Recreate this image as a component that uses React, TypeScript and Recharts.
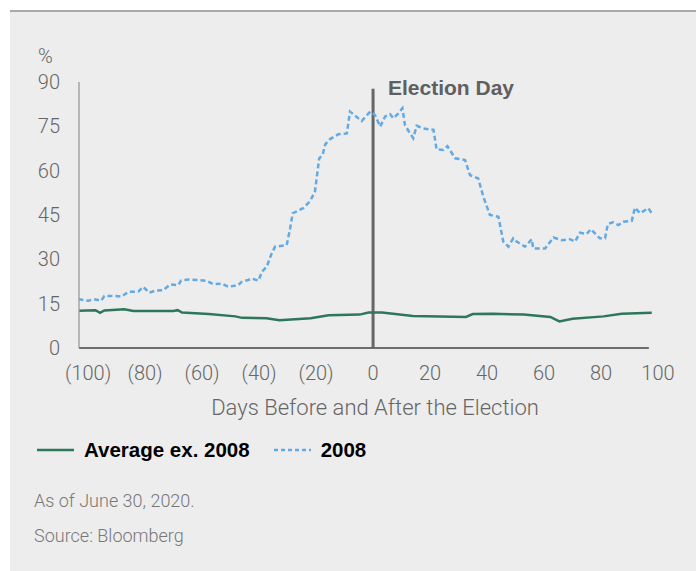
import React from "react";
import { LineChart, Line, XAxis, YAxis, ReferenceLine } from "recharts";

// 2008 path, read as (day, %) pairs
const days2008 = [
  -103.4, -99.9, -98.1, -95.4, -94.3, -90.5, -88.2, -85.9, -82.4, -80.6, -78.6, -76.5, -73.6, -71.2,
  -68.3, -67.4, -64.8, -61.3, -58.4, -56.0, -53.1, -50.8, -47.3, -46.1, -43.8, -42.6, -40.2, -39.0,
  -37.3, -35.8, -34.4, -30.3, -29.1, -28.2, -24.5, -22.1, -20.4, -19.8, -18.9, -17.7, -16.8, -15.1,
  -12.2, -9.2, -8.1, -4.0, -1.0, 0.7, 2.5, 4.2, 6.0, 7.1, 8.9, 10.3, 11.2, 12.4, 14.1, 15.3, 17.6,
  21.2, 22.3, 24.7, 26.1, 28.8, 32.3, 34.0, 36.9, 38.7, 41.0, 44.0, 45.7, 47.5, 49.2, 50.4, 53.3,
  55.7, 56.2, 60.4, 63.3, 66.2, 69.1, 70.9, 72.6, 75.0, 76.4, 79.6, 81.4, 82.4, 84.3, 86.1, 87.8,
  90.8, 91.9, 93.7, 96.6, 97.8,
];
const values2008 = [
  16.5, 16.0, 16.5, 16.0, 17.6, 17.6, 17.4, 19.0, 19.1, 20.7, 18.7, 19.4, 19.6, 21.5,
  21.3, 22.8, 23.2, 23.0, 22.7, 21.6, 21.8, 20.7, 21.3, 22.4, 23.0, 23.5, 22.8, 25.8,
  27.5, 31.5, 34.3, 34.8, 40.5, 45.6, 47.3, 49.7, 52.9, 57.4, 64.2, 65.3, 68.9, 70.7,
  72.3, 72.6, 80.0, 76.8, 80.0, 78.8, 74.9, 78.3, 79.1, 77.7, 79.4, 81.1, 75.4, 73.5, 71.0, 75.2, 74.3,
  73.8, 67.2, 67.0, 68.3, 64.2, 63.6, 58.5, 57.4, 51.2, 45.0, 44.4, 36.0, 34.3, 37.1, 36.0, 34.3,
  36.8, 33.7, 33.7, 37.4, 36.5, 36.8, 36.0, 39.0, 38.6, 40.2, 37.1, 37.1, 42.0, 42.5, 41.6, 42.7,
  43.0, 47.5, 45.6, 47.3, 45.6,
];

// average of the other election years
const daysAvg = [
  -103.4, -97.4, -95.8, -94.3, -87.3, -84.1, -70.1, -68.6, -67.0, -57.7, -48.3, -46.0, -37.4, -32.8,
  -21.9, -15.6, -4.7, -1.6, 3.1, 14.0, 32.6, 35.0, 42.0, 52.9, 62.2, 65.4, 70.0, 80.9, 87.2, 97.8,
];
const valuesAvg = [
  12.6, 12.8, 11.9, 12.7, 13.1, 12.5, 12.5, 12.8, 12.0, 11.5, 10.7, 10.2, 10.1, 9.4,
  10.1, 11.1, 11.3, 12.0, 12.0, 10.8, 10.5, 11.5, 11.6, 11.3, 10.5, 9.0, 9.9, 10.7, 11.6, 11.9,
];

const xTicks = [-100, -80, -60, -40, -20, 0, 20, 40, 60, 80, 100];
const yTicks = [0, 15, 30, 45, 60, 75, 90];

const GREEN = "#2f775a";
const BLUE = "#63aae4";
const LABEL = "#666666";

const series2008 = days2008.map((d, i) => ({ day: d, value: values2008[i] }));
const seriesAvg = daysAvg.map((d, i) => ({ day: d, value: valuesAvg[i] }));

const fmtDay = (v: number) => (v < 0 ? `(${Math.abs(v)})` : `${v}`);

const tickFont = { fontFamily: "Roboto", fontWeight: 300, fontSize: 20, fill: LABEL };

function LegendItem({ color, dashed, label }: { color: string; dashed?: boolean; label: string }) {
  return (
    <span style={{ display: "inline-flex", alignItems: "center" }}>
      <svg width={37} height={6} style={{ marginRight: 10 }}>
        <line x1={0} y1={3} x2={37} y2={3} stroke={color} strokeWidth={2.5} strokeDasharray={dashed ? "4 3" : undefined} />
      </svg>
      <span>{label}</span>
    </span>
  );
}

export default function App() {
  return (
    <div style={{ position: "absolute", left: 0, top: 0, width: 696, height: 571, background: "#fff", overflow: "hidden" }}>
      <div style={{ position: "absolute", left: 10, top: 10, width: 686, height: 560, background: "#ededed", borderTop: "2px solid #aaaaaa" }} />

      <div style={{ position: "absolute", left: 38, top: 44, font: "300 20px Roboto", color: LABEL }}>%</div>

      <div style={{ position: "absolute", left: 0, top: 0 }}>
        <LineChart width={696} height={420} margin={{ top: 82, right: 38, bottom: 42, left: 19 }}>
          <XAxis
            dataKey="day"
            type="number"
            domain={[-103.2, 100]}
            ticks={xTicks}
            allowDataOverflow
            tickFormatter={fmtDay}
            axisLine={false}
            tickLine={false}
            tickSize={0}
            tickMargin={18}
            tick={tickFont}
            interval={0}
            height={30}
          />
          <YAxis
            dataKey="value"
            type="number"
            domain={[0, 90]}
            ticks={yTicks}
            width={60}
            axisLine={{ stroke: "#9a9a9a", strokeWidth: 1.3 }}
            tickLine={false}
            tickSize={0}
            tickMargin={19}
            tick={tickFont}
            interval={0}
          />
          <ReferenceLine segment={[{ x: -103.2, y: 0 }, { x: 96.8, y: 0 }]} stroke="#6e6e6e" strokeWidth={2} />
          <ReferenceLine segment={[{ x: 0, y: 87.7 }, { x: 0, y: 0 }]} stroke="#666666" strokeWidth={3} />
          <Line data={seriesAvg} dataKey="value" type="linear" stroke={GREEN} strokeWidth={2.5} dot={false} isAnimationActive={false} />
          <Line data={series2008} dataKey="value" type="linear" stroke={BLUE} strokeWidth={2.5} strokeDasharray="5 3" dot={false} isAnimationActive={false} />
        </LineChart>
      </div>

      <div style={{ position: "absolute", left: 388, top: 76, font: "bold 21px 'Liberation Sans', Arial, sans-serif", color: "#5f5f5f" }}>
        Election Day
      </div>

      <div style={{ position: "absolute", left: 0, width: 750, top: 395, textAlign: "center", font: "300 22px Roboto", color: LABEL }}>
        Days Before and After the Election
      </div>

      <div style={{ position: "absolute", left: 37, top: 438, display: "flex", gap: 24, font: "bold 20.5px 'Liberation Sans', Arial, sans-serif", color: "#000" }}>
        <LegendItem color={GREEN} label="Average ex. 2008" />
        <LegendItem color={BLUE} dashed label="2008" />
      </div>

      <div style={{ position: "absolute", left: 34, top: 490, font: "300 18px Roboto", color: "#777" }}>As of June 30, 2020.</div>
      <div style={{ position: "absolute", left: 34, top: 525, font: "300 18px Roboto", color: "#777" }}>Source: Bloomberg</div>
    </div>
  );
}
